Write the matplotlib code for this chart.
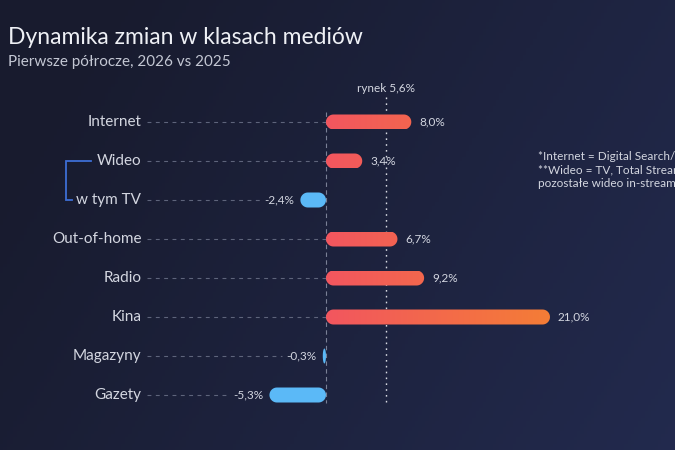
import numpy as np
import matplotlib
matplotlib.use("Agg")
import matplotlib.pyplot as plt
from matplotlib.path import Path
from matplotlib.patches import PathPatch
from matplotlib.colors import LinearSegmentedColormap

# data
categories = ["Internet", "Wideo", "w tym TV", "Out-of-home", "Radio", "Kina", "Magazyny", "Gazety"]
values = [8.0, 3.4, -2.4, 6.7, 9.2, 21.0, -0.3, -5.3]
market = 5.6
title = "Dynamika zmian w klasach mediów"
subtitle = "Pierwsze półrocze, 2026 vs 2025"
notes = ["*Internet = Digital Search/Display/Social",
         "**Wideo = TV, Total Streaming,",
         "pozostałe wideo in-stream"]

plt.rcParams['font.family'] = ['Lato', 'DejaVu Sans']
TXT = '#d3d6e0'
POS_CMAP = LinearSegmentedColormap.from_list('pos', ['#f2565f', '#f47d36'])
NEG = '#5bb9f7'

fig = plt.figure(figsize=(6.75, 4.5), dpi=100)

# background gradient
bg = fig.add_axes([0, 0, 1, 1])
gx, gy = np.meshgrid(np.linspace(0, 1, 200), np.linspace(0, 1, 140))
c0 = np.array([0x18, 0x1b, 0x2e]) / 255
c1 = np.array([0x23, 0x2b, 0x50]) / 255
t = np.clip(0.75 * gx + 0.3 * gy - 0.12, 0, 1)[..., None]
bg.imshow(c0 + (c1 - c0) * t, aspect='auto', extent=[0, 1, 0, 1])
bg.axis('off')

ax = fig.add_axes([0, 0, 1, 1])
ax.set_facecolor('none')
# 1% ~ 10.67 px, one row ~ 39 px
ax.set_xlim(-30.56, 32.72)
ax.set_ylim(8.41, -3.128)
ax.axis('off')

px_x = (ax.get_xlim()[1] - ax.get_xlim()[0]) / 675
px_y = (ax.get_ylim()[0] - ax.get_ylim()[1]) / 450
bar_h = 15 * px_y
rx_full, ry = 7.5 * px_x, 7.5 * px_y


def rounded_bar(x0, x1, yc):
    rx = min(rx_full, (x1 - x0) / 2)
    y0, y1 = yc - bar_h / 2, yc + bar_h / 2
    th = np.linspace(0, np.pi / 2, 12)
    pts = []
    for cx, cy, a0 in [(x1 - rx, y1 - ry, 0), (x0 + rx, y1 - ry, np.pi / 2),
                       (x0 + rx, y0 + ry, np.pi), (x1 - rx, y0 + ry, 1.5 * np.pi)]:
        a = a0 + th
        pts += list(zip(cx + rx * np.cos(a), cy + ry * np.sin(a)))
    pts.append(pts[0])
    codes = [Path.MOVETO] + [Path.LINETO] * (len(pts) - 2) + [Path.CLOSEPOLY]
    return Path(pts, codes)


fig.canvas.draw()
rend = fig.canvas.get_renderer()
inv = ax.transData.inverted()

label_x = -17.3
for i, (cat, v) in enumerate(zip(categories, values)):
    ax.text(label_x, i, cat, ha='right', va='center', color=TXT, fontsize=11)
    if v >= 0:
        p = PathPatch(rounded_bar(0, v, i), facecolor='none', edgecolor='none')
        ax.add_patch(p)
        grad = np.linspace(0, v / max(values), 256)[None, :]
        im = ax.imshow(grad, cmap=POS_CMAP, vmin=0, vmax=1, aspect='auto',
                       extent=[0, v, i + bar_h / 2, i - bar_h / 2], zorder=3)
        im.set_clip_path(p)
        ax.text(v + 8 * px_x, i, f"{v:.1f}%".replace('.', ','), ha='left', va='center',
                color=TXT, fontsize=8.5)
        guide_end = 0
    else:
        ax.add_patch(PathPatch(rounded_bar(v, 0, i), facecolor=NEG, edgecolor='none', zorder=3))
        lab = ax.text(v - 6 * px_x, i, f"{v:.1f}%".replace('.', ','), ha='right', va='center',
                      color=TXT, fontsize=8.5)
        bb = lab.get_window_extent(rend)
        guide_end = inv.transform((bb.x0, 0))[0] - 5 * px_x
    ax.plot([label_x + 6 * px_x, guide_end], [i, i], color='#5e647b', lw=0.8,
            ls=(0, (3.5, 4)), zorder=1)

# zero line and market line
ax.plot([0, 0], [-0.26, 7.2], color='#7a8096', lw=0.8, ls=(0, (4, 3)), zorder=2)
ax.plot([market, market], [-0.64, 7.26], color='#d8dae2', lw=1.0, ls=(0, (1.2, 3)), zorder=2)
ax.text(market, -0.85, f"rynek {market:.1f}%".replace('.', ','), ha='center', va='center',
        color=TXT, fontsize=8.5)

# bracket joining Wideo and w tym TV
bx0 = label_x - 75 * px_x
ax.plot([label_x - 50 * px_x, bx0, bx0, bx0 + 6 * px_x], [1, 1, 2, 2],
        color='#3d6ed4', lw=1.3, solid_joinstyle='miter', zorder=2)

# titles
fig.text(8 / 675, 1 - 37 / 450, title, ha='left', va='center', color='#eef0f5', fontsize=16.5)
fig.text(8 / 675, 1 - 62 / 450, subtitle, ha='left', va='center', color='#c3c7d3', fontsize=11)

# footnotes
for k, line in enumerate(notes):
    fig.text(538 / 675, 1 - (157 + 13 * k) / 450, line, ha='left', va='center',
             color=TXT, fontsize=8.5)

fig.savefig('out.png', dpi=100)
